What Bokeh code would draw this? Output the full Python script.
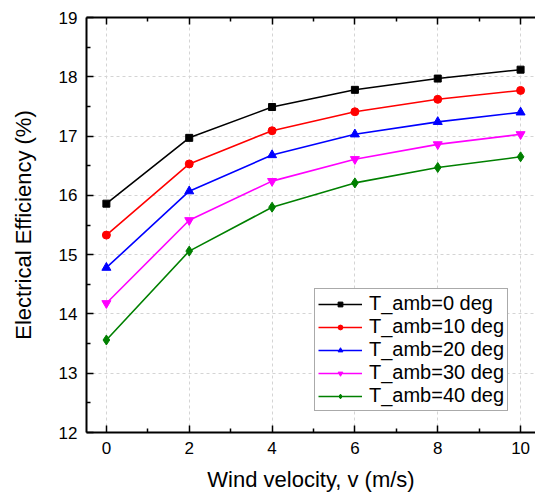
from bokeh.plotting import figure
from bokeh.models import Range1d, LinearAxis, FixedTicker, Legend
from bokeh.embed import file_html
from bokeh.resources import INLINE

wind = [0, 2, 4, 6, 8, 10]
eff_0 = [15.86, 16.97, 17.49, 17.78, 17.97, 18.12]
eff_10 = [15.33, 16.53, 17.09, 17.41, 17.62, 17.77]
eff_20 = [14.78, 16.07, 16.68, 17.03, 17.24, 17.40]
eff_30 = [14.18, 15.58, 16.24, 16.61, 16.86, 17.03]
eff_40 = [13.56, 15.06, 15.80, 16.21, 16.47, 16.65]
labels = ["T_amb=0 deg", "T_amb=10 deg", "T_amb=20 deg", "T_amb=30 deg", "T_amb=40 deg"]
x_ticks = [0, 2, 4, 6, 8, 10]
y_ticks = [12, 13, 14, 15, 16, 17, 18, 19]

FONT = "Liberation Sans"

p = figure(width=535, height=498, output_backend="svg", toolbar_location=None,
           x_range=Range1d(-0.48, 10.36), y_range=Range1d(12, 19),
           min_border_left=86, min_border_right=0, min_border_top=17, min_border_bottom=66)
p.outline_line_color = None
p.background_fill_color = "white"
p.border_fill_color = "white"

for ax in (p.xaxis[0], p.yaxis[0]):
    ax.axis_line_width = 2
    ax.axis_line_color = "black"
    ax.major_tick_in = 7
    ax.major_tick_out = 0
    ax.minor_tick_in = 4
    ax.minor_tick_out = 0
    ax.major_tick_line_width = 1.5
    ax.minor_tick_line_width = 1.5
    ax.major_label_text_font = FONT
    ax.major_label_text_font_size = "17px"
    ax.major_label_text_color = "black"
    ax.axis_label_text_font = FONT
    ax.axis_label_text_font_style = "normal"
    ax.axis_label_text_font_size = "22px"
    ax.axis_label_text_color = "black"

p.xaxis[0].ticker = FixedTicker(ticks=x_ticks, minor_ticks=[1, 3, 5, 7, 9])
p.yaxis[0].ticker = FixedTicker(ticks=y_ticks, minor_ticks=[12.5, 13.5, 14.5, 15.5, 16.5, 17.5, 18.5])
p.xaxis[0].axis_label = "Wind velocity, v (m/s)"
p.yaxis[0].axis_label = "Electrical Efficiency (%)"
p.xaxis[0].major_label_standoff = 9
p.xaxis[0].axis_label_standoff = 10
p.yaxis[0].major_label_standoff = 9
p.yaxis[0].axis_label_standoff = 20

top = LinearAxis(ticker=FixedTicker(ticks=x_ticks, minor_ticks=[1, 3, 5, 7, 9]))
top.axis_line_width = 2
top.major_tick_in = 7
top.major_tick_out = 0
top.minor_tick_in = 4
top.minor_tick_out = 0
top.major_tick_line_width = 1.5
top.minor_tick_line_width = 1.5
top.major_label_text_font_size = "1px"
top.major_label_text_color = None
top.major_label_standoff = 0
p.add_layout(top, "above")

p.xgrid.ticker = FixedTicker(ticks=x_ticks)
p.ygrid.ticker = FixedTicker(ticks=y_ticks)
for g in (p.xgrid[0], p.ygrid[0]):
    g.grid_line_color = "#d4d4d4"
    g.grid_line_dash = "3 3"
    g.grid_line_width = 1

series = [eff_0, eff_10, eff_20, eff_30, eff_40]
colors = ["black", "#ff0000", "#0000ff", "#ff00ff", "#008000"]
markers = ["square", "circle", "triangle", "inverted_triangle", "diamond"]
sizes = [7, 8, 9, 9, 10]

items = []
for ys, c, m, s, lab in zip(series, colors, markers, sizes, labels):
    r1 = p.line(wind, ys, line_color=c, line_width=1.6)
    r2 = p.scatter(wind, ys, marker=m, size=s, fill_color=c, line_color=c)
    items.append((lab, [r1, r2]))

leg = Legend(items=items, location=(228, 21))
leg.label_text_font = FONT
leg.label_text_font_size = "20px"
leg.label_text_color = "black"
leg.glyph_width = 44
leg.glyph_height = 12
leg.label_height = 20
leg.label_standoff = 7
leg.spacing = 0
leg.padding = 3
leg.margin = 0
leg.border_line_color = "#555555"
leg.border_line_width = 1
leg.background_fill_color = "white"
leg.background_fill_alpha = 1
p.add_layout(leg, "center")

open("out.html", "w").write(file_html(p, INLINE))
